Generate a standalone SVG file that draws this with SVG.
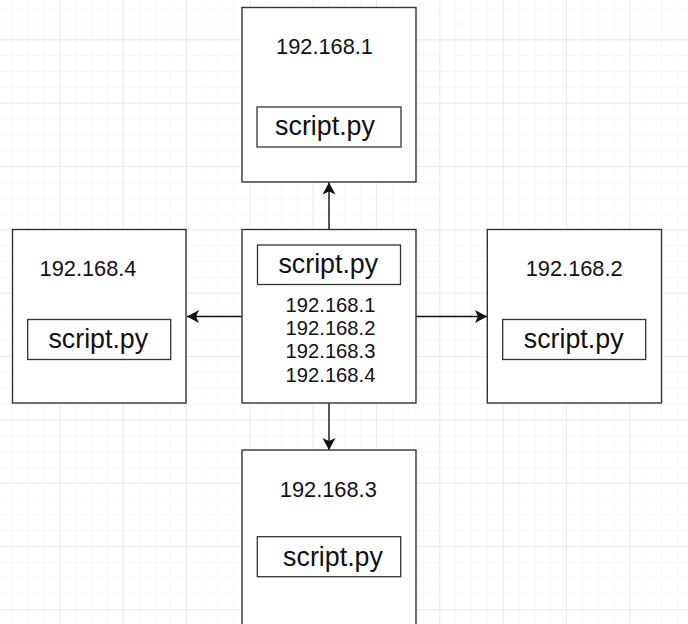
<svg xmlns="http://www.w3.org/2000/svg" width="688" height="624" viewBox="0 0 688 624">
<style>
.box{fill:#fff;stroke:#333;stroke-width:1.4}
.inner{fill:#fff;stroke:#333;stroke-width:1.3}
.ip{font-family:"Liberation Sans",Arial,sans-serif;font-size:21.8px;fill:#111;text-anchor:middle}
.lst{font-family:"Liberation Sans",Arial,sans-serif;font-size:20.2px;fill:#111;text-anchor:middle}
.sc{font-family:"Liberation Sans",Arial,sans-serif;font-size:26.8px;fill:#111;text-anchor:middle}
.conn{stroke:#111;stroke-width:1.4;fill:none;marker-end:url(#arr)}
</style>
<defs>
<pattern id="minor" x="-4" y="-24" width="15.8333" height="15.8333" patternUnits="userSpaceOnUse">
<path d="M0,0 H15.8333 M0,0 V15.8333" stroke="#f0f0f0" stroke-width="1" fill="none"/>
</pattern>
<pattern id="major" x="-4" y="-24" width="63.3333" height="63.3333" patternUnits="userSpaceOnUse">
<path d="M0,0 H63.3333 M0,0 V63.3333" stroke="#e0e0e0" stroke-width="1" fill="none"/>
</pattern>
<marker id="arr" viewBox="0 0 12 13" refX="12" refY="6.5" markerWidth="12" markerHeight="13" markerUnits="userSpaceOnUse" orient="auto">
<path d="M12,6.5 L0,0 L3,6.5 L0,13 Z" fill="#111"/>
</marker>
</defs>
<rect width="688" height="624" fill="#fff"/>
<rect width="688" height="624" fill="url(#minor)"/>
<rect width="688" height="624" fill="url(#major)"/>

<g id="connectors">
<line class="conn" x1="329" y1="229" x2="329" y2="182.5"/>
<line class="conn" x1="416" y1="316.5" x2="487" y2="316.5"/>
<line class="conn" x1="242" y1="316.5" x2="187" y2="316.5"/>
<line class="conn" x1="329" y1="403" x2="329" y2="450"/>
</g>

<g id="node-top">
<rect class="box" x="242" y="7.5" width="174" height="174.5"/>
<text class="ip" x="324.5" y="54.3">192.168.1</text>
<rect class="inner" x="257" y="107" width="144" height="40"/>
<text class="sc" x="325" y="135">script.py</text>
</g>

<g id="node-center">
<rect class="box" x="242" y="229.5" width="174" height="173.5"/>
<rect class="inner" x="257.5" y="245" width="143" height="39.5"/>
<text class="sc" x="328.3" y="273.3">script.py</text>
<text class="lst" x="330.5" y="311.7">192.168.1</text>
<text class="lst" x="330.5" y="335">192.168.2</text>
<text class="lst" x="330.5" y="358.3">192.168.3</text>
<text class="lst" x="330.5" y="381.7">192.168.4</text>
</g>

<g id="node-left">
<rect class="box" x="12.5" y="229.5" width="173.5" height="173.5"/>
<text class="ip" x="88" y="276">192.168.4</text>
<rect class="inner" x="27.7" y="319.5" width="143" height="40"/>
<text class="sc" x="98.3" y="348.3">script.py</text>
</g>

<g id="node-right">
<rect class="box" x="487.3" y="229.5" width="174.2" height="173.5"/>
<text class="ip" x="574.2" y="276">192.168.2</text>
<rect class="inner" x="502.7" y="319.5" width="143" height="40"/>
<text class="sc" x="573.7" y="348.3">script.py</text>
</g>

<g id="node-bottom">
<rect class="box" x="242" y="450" width="174" height="190"/>
<text class="ip" x="328.3" y="497.3">192.168.3</text>
<rect class="inner" x="257.3" y="536.7" width="143.4" height="40"/>
<text class="sc" x="333" y="566">script.py</text>
</g>
</svg>
